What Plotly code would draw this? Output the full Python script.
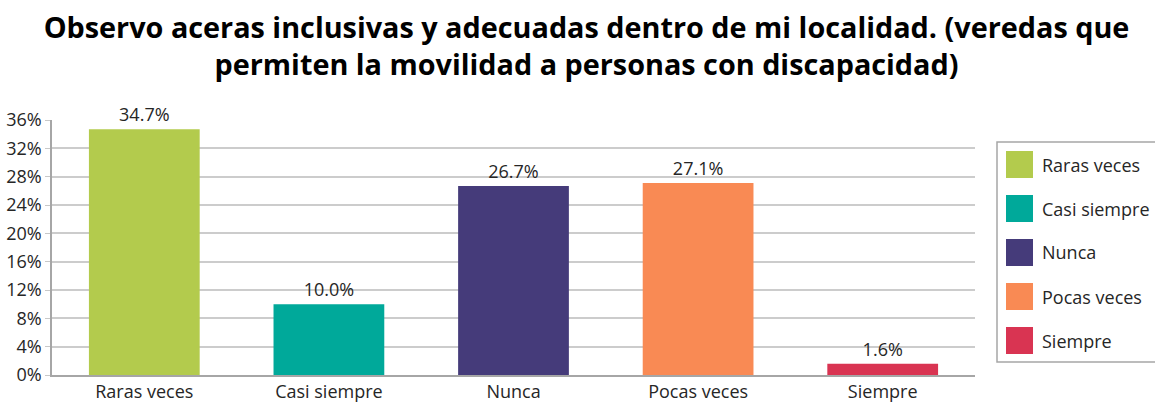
import plotly.graph_objects as go

categories = ["Raras veces", "Casi siempre", "Nunca", "Pocas veces", "Siempre"]
values = [34.7, 10.0, 26.7, 27.1, 1.6]
colors = ["#B3CB4D", "#00A99A", "#453B7A", "#F98A54", "#D93452"]
y_ticks = [0, 4, 8, 12, 16, 20, 24, 28, 32, 36]
title_text = ("Observo aceras inclusivas y adecuadas dentro de mi localidad. (veredas que<br>"
              "permiten la movilidad a personas con discapacidad)")

W, H = 1155, 403
L, R, T, B = 52, 180, 120, 28
pw, ph = W - L - R, H - T - B

def px_x(p):
    return (p - L) / pw

def px_y(p):
    return (H - B - p) / ph

FONT = "Open Sans"

fig = go.Figure()
fig.add_trace(go.Bar(
    x=categories, y=values, marker=dict(color=colors, line=dict(width=0)),
    text=[f"{v:.1f}%" for v in values], textposition="outside",
    textfont=dict(size=18, color="#262626", family=FONT),
    cliponaxis=False, showlegend=False, hoverinfo="skip",
))

shapes = []
annotations = []
# legend box
shapes.append(dict(type="rect", xref="paper", yref="paper",
                   x0=px_x(997), x1=px_x(1170), y0=px_y(362), y1=px_y(142),
                   line=dict(color="#A6A6A6", width=1.5), fillcolor="rgba(0,0,0,0)"))
for i, (c, col) in enumerate(zip(categories, colors)):
    top = 151 + 44 * i
    shapes.append(dict(type="rect", xref="paper", yref="paper",
                       x0=px_x(1006), x1=px_x(1033), y0=px_y(top + 27), y1=px_y(top),
                       line=dict(width=0), fillcolor=col))
    annotations.append(dict(xref="paper", yref="paper", x=px_x(1040), y=px_y(top + 13.5),
                            text=c, showarrow=False, xanchor="left", yanchor="middle",
                            font=dict(size=18, color="#262626", family=FONT)))

fig.update_layout(
    width=W, height=H,
    margin=dict(l=L, r=R, t=T, b=B, autoexpand=False),
    paper_bgcolor="white", plot_bgcolor="white",
    bargap=0.4,
    title=dict(text=title_text, x=586.5 / W, xanchor="center", y=1 - 38 / H, yanchor="middle",
               font=dict(size=28.8, color="#000000", family=FONT, weight="bold")),
    shapes=shapes, annotations=annotations,
    xaxis=dict(showline=True, linecolor="#A6A6A6", linewidth=1.5, ticks="", automargin=False,
               tickfont=dict(size=18, color="#262626", family=FONT), showgrid=False),
    yaxis=dict(range=[0, 36], tickvals=y_ticks, ticktext=[f"{t}%" for t in y_ticks],
               showline=True, linecolor="#A6A6A6", linewidth=1.5, automargin=False,
               ticks="outside", ticklen=5, tickcolor="#C8C8C8",
               gridcolor="#CCCCCC", gridwidth=1.5, zeroline=False,
               tickfont=dict(size=18, color="#262626", family=FONT)),
)
fig.write_html("out.html", config={"displayModeBar": False},
               post_script="document.body.style.margin='0';document.body.style.overflow='hidden';")
